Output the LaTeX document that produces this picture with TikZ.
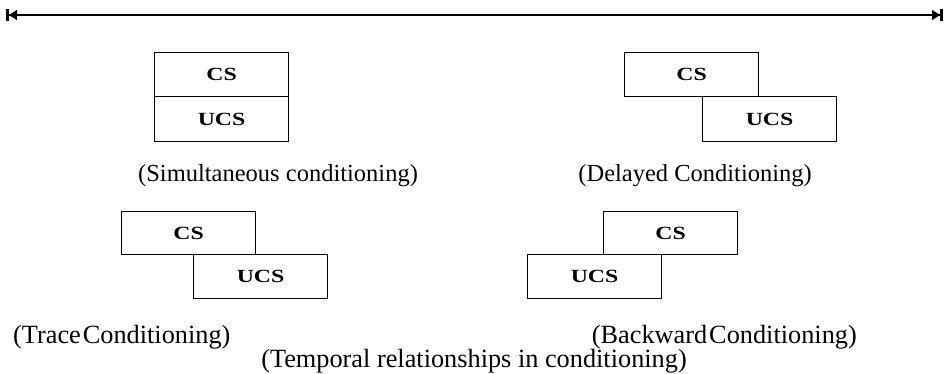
\documentclass[tikz,border=0pt]{standalone}
\usepackage{fontspec}
\setmainfont{Liberation Serif}
\newfontfamily\boxfont[FakeStretch=1.28]{Liberation Serif}
\usetikzlibrary{arrows.meta}
\begin{document}
\begin{tikzpicture}[x=1pt,y=-1pt,
  box/.style={draw, line width=1.2pt, minimum width=134pt, minimum height=44pt, inner sep=0pt, anchor=north west, font=\boxfont\fontsize{18.6}{18.6}\selectfont\bfseries},
  sublabel/.style={inner sep=0pt, font=\fontsize{24.5}{24.5}\selectfont},
  captext/.style={inner sep=0pt, font=\fontsize{26.3}{26.3}\selectfont}]
\useasboundingbox (0,0) rectangle (945,373);
\coordinate (L) at (6,15);
\coordinate (R) at (943,15);
\draw[line width=1.1pt, {Bar[width=12pt,line width=3pt,sep=0pt]Triangle[length=8pt,width=10pt,sep=0pt]}-{Triangle[length=8pt,width=10pt,sep=0pt]Bar[width=12pt,line width=3pt,sep=0pt]}] (L) -- (R);
% simultaneous
\node[box] (scs) at (154,52) {CS};
\node[box, minimum height=45pt] (sucs) at (154,96) {UCS};
\node[sublabel, anchor=base west] (slab) at (138,181) {(Simultaneous conditioning)};
% delayed
\node[box] (dcs) at (624,52) {CS};
\node[box, minimum height=45pt] (ducs) at (702,96) {UCS};
\node[sublabel, anchor=base east] (dlab) at (812,181) {(Delayed Conditioning)};
% trace
\node[box, minimum height=43pt] (tcs) at (121,211) {CS};
\node[box] (tucs) at (193,254) {UCS};
\node[captext, anchor=base west] (tlab) at (13,343) {(Trace\kern2pt Conditioning)};
% backward
\node[box, minimum height=43pt] (bcs) at (603,211) {CS};
\node[box] (bucs) at (527,254) {UCS};
\node[captext, anchor=base east] (blab) at (857,343) {(Backward\kern2pt Conditioning)};
% caption
\node[captext, anchor=base] (title) at (474,367) {(Temporal relationships in conditioning)};
\end{tikzpicture}
\end{document}
